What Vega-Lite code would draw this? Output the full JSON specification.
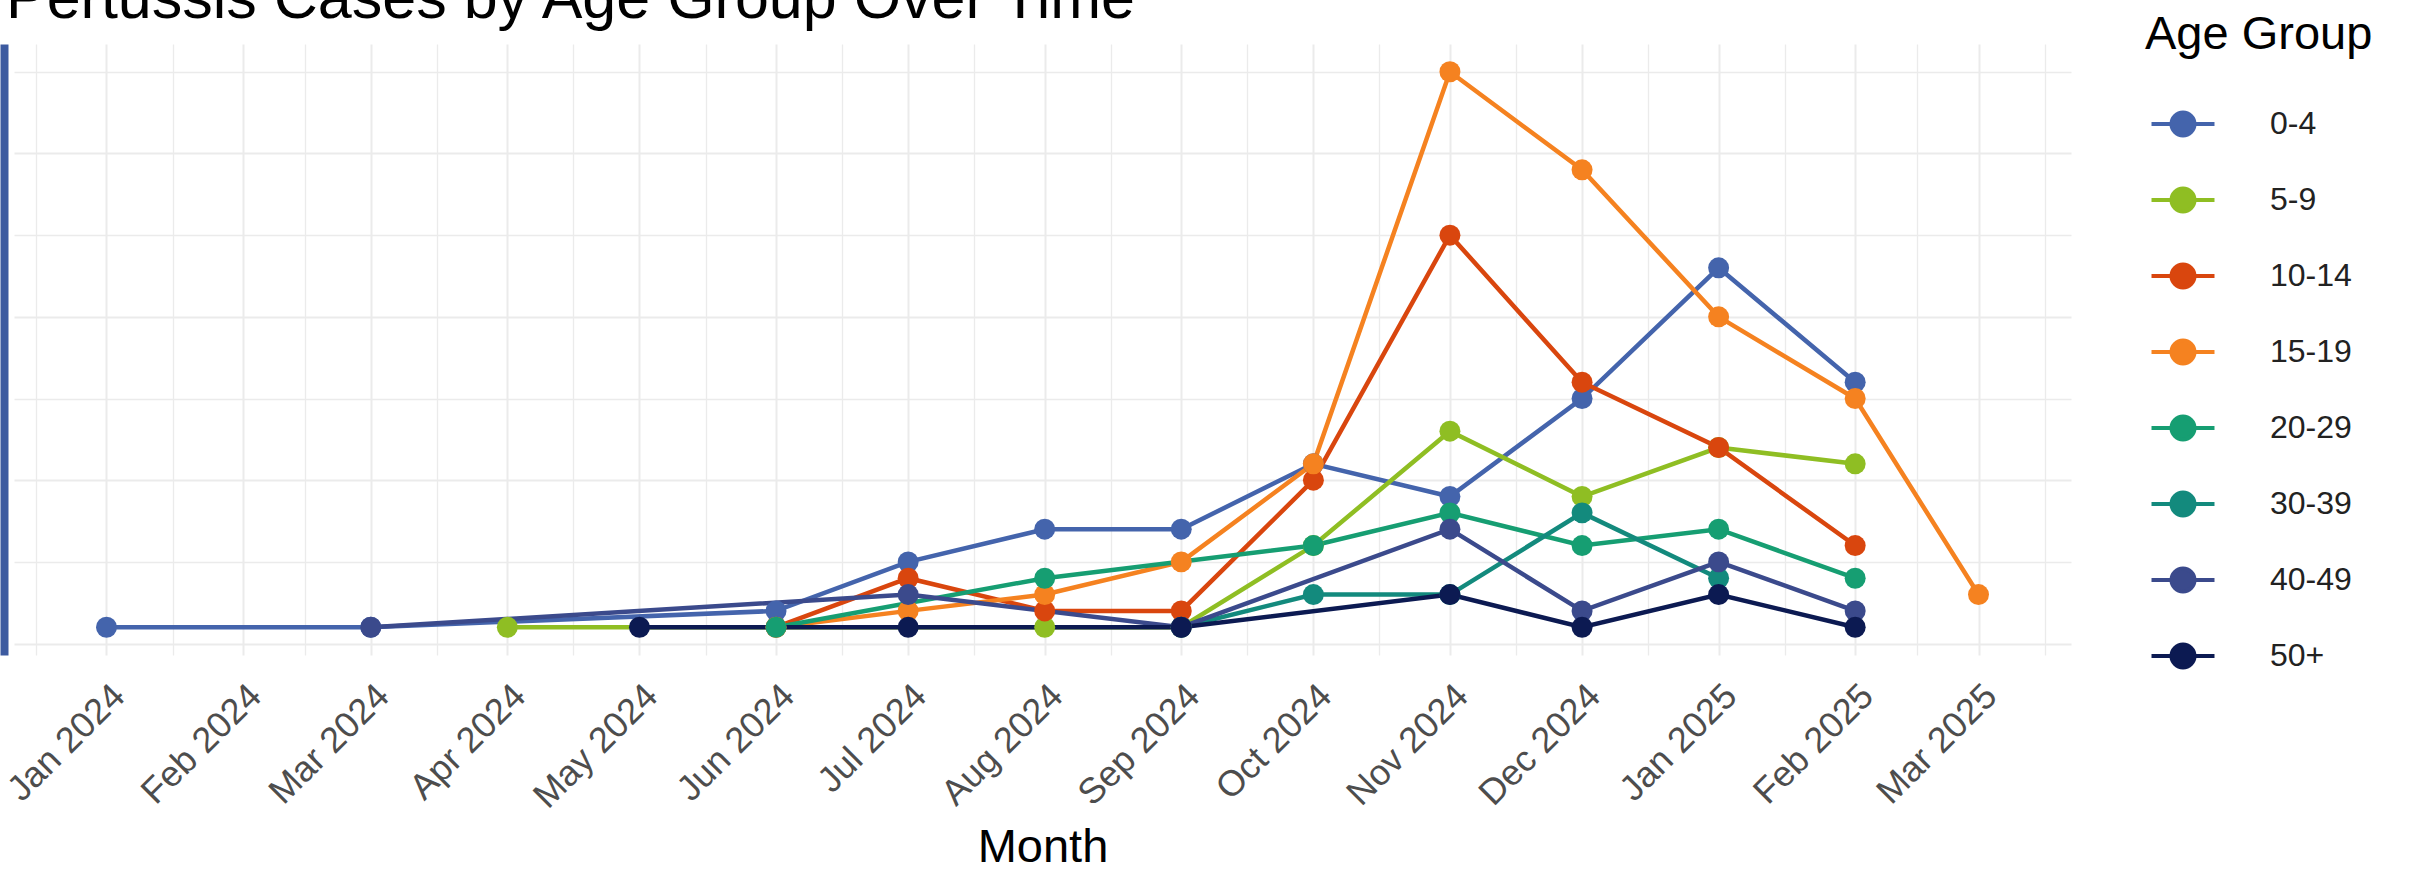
{
  "$schema": "https://vega.github.io/schema/vega-lite/v6.json",
  "width": 2057,
  "height": 611,
  "autosize": "none",
  "padding": {"left": 14, "top": 44, "right": 338, "bottom": 217},
  "background": "white",
  "config": {"view": {"stroke": null}, "font": "Liberation Sans"},
  "title": {"text": "Pertussis Cases by Age Group Over Time", "anchor": "start", "frame": "group", "fontSize": 61, "fontWeight": "normal", "color": "#000000", "baseline": "alphabetic", "offset": -67, "dx": -8, "font": "Liberation Sans", "limit": 2000},
  "data": {"values": [
    {"month": "2024-01-01", "group": "0-4", "cases": 1},
    {"month": "2024-03-01", "group": "0-4", "cases": 1},
    {"month": "2024-06-01", "group": "0-4", "cases": 2},
    {"month": "2024-07-01", "group": "0-4", "cases": 5},
    {"month": "2024-08-01", "group": "0-4", "cases": 7},
    {"month": "2024-09-01", "group": "0-4", "cases": 7},
    {"month": "2024-10-01", "group": "0-4", "cases": 11},
    {"month": "2024-11-01", "group": "0-4", "cases": 9},
    {"month": "2024-12-01", "group": "0-4", "cases": 15},
    {"month": "2025-01-01", "group": "0-4", "cases": 23},
    {"month": "2025-02-01", "group": "0-4", "cases": 16},
    {"month": "2024-04-01", "group": "5-9", "cases": 1},
    {"month": "2024-08-01", "group": "5-9", "cases": 1},
    {"month": "2024-09-01", "group": "5-9", "cases": 1},
    {"month": "2024-10-01", "group": "5-9", "cases": 6},
    {"month": "2024-11-01", "group": "5-9", "cases": 13},
    {"month": "2024-12-01", "group": "5-9", "cases": 9},
    {"month": "2025-01-01", "group": "5-9", "cases": 12},
    {"month": "2025-02-01", "group": "5-9", "cases": 11},
    {"month": "2024-06-01", "group": "10-14", "cases": 1},
    {"month": "2024-07-01", "group": "10-14", "cases": 4},
    {"month": "2024-08-01", "group": "10-14", "cases": 2},
    {"month": "2024-09-01", "group": "10-14", "cases": 2},
    {"month": "2024-10-01", "group": "10-14", "cases": 10},
    {"month": "2024-11-01", "group": "10-14", "cases": 25},
    {"month": "2024-12-01", "group": "10-14", "cases": 16},
    {"month": "2025-01-01", "group": "10-14", "cases": 12},
    {"month": "2025-02-01", "group": "10-14", "cases": 6},
    {"month": "2024-06-01", "group": "15-19", "cases": 1},
    {"month": "2024-07-01", "group": "15-19", "cases": 2},
    {"month": "2024-08-01", "group": "15-19", "cases": 3},
    {"month": "2024-09-01", "group": "15-19", "cases": 5},
    {"month": "2024-10-01", "group": "15-19", "cases": 11},
    {"month": "2024-11-01", "group": "15-19", "cases": 35},
    {"month": "2024-12-01", "group": "15-19", "cases": 29},
    {"month": "2025-01-01", "group": "15-19", "cases": 20},
    {"month": "2025-02-01", "group": "15-19", "cases": 15},
    {"month": "2025-03-01", "group": "15-19", "cases": 3},
    {"month": "2024-06-01", "group": "20-29", "cases": 1},
    {"month": "2024-08-01", "group": "20-29", "cases": 4},
    {"month": "2024-10-01", "group": "20-29", "cases": 6},
    {"month": "2024-11-01", "group": "20-29", "cases": 8},
    {"month": "2024-12-01", "group": "20-29", "cases": 6},
    {"month": "2025-01-01", "group": "20-29", "cases": 7},
    {"month": "2025-02-01", "group": "20-29", "cases": 4},
    {"month": "2024-09-01", "group": "30-39", "cases": 1},
    {"month": "2024-10-01", "group": "30-39", "cases": 3},
    {"month": "2024-11-01", "group": "30-39", "cases": 3},
    {"month": "2024-12-01", "group": "30-39", "cases": 8},
    {"month": "2025-01-01", "group": "30-39", "cases": 4},
    {"month": "2024-03-01", "group": "40-49", "cases": 1},
    {"month": "2024-07-01", "group": "40-49", "cases": 3},
    {"month": "2024-09-01", "group": "40-49", "cases": 1},
    {"month": "2024-11-01", "group": "40-49", "cases": 7},
    {"month": "2024-12-01", "group": "40-49", "cases": 2},
    {"month": "2025-01-01", "group": "40-49", "cases": 5},
    {"month": "2025-02-01", "group": "40-49", "cases": 2},
    {"month": "2024-05-01", "group": "50+", "cases": 1},
    {"month": "2024-07-01", "group": "50+", "cases": 1},
    {"month": "2024-09-01", "group": "50+", "cases": 1},
    {"month": "2024-11-01", "group": "50+", "cases": 3},
    {"month": "2024-12-01", "group": "50+", "cases": 1},
    {"month": "2025-01-01", "group": "50+", "cases": 3},
    {"month": "2025-02-01", "group": "50+", "cases": 1}
  ]},
  "encoding": {
    "x": {
      "field": "month", "type": "temporal",
      "scale": {"type": "utc", "domain": [{"year": 2023, "month": 12, "date": 11, "utc": true}, {"year": 2025, "month": 3, "date": 22, "utc": true}]},
      "axis": {
        "title": "Month", "titleFontSize": 47, "titleFont": "Liberation Sans", "titleFontWeight": "normal", "titleColor": "#000000", "titlePadding": 10,
        "values": [
          {"year": 2023, "month": 12, "date": 16, "utc": true},
          {"year": 2024, "month": 1, "date": 1, "utc": true},
          {"year": 2024, "month": 1, "date": 16, "utc": true},
          {"year": 2024, "month": 2, "date": 1, "utc": true},
          {"year": 2024, "month": 2, "date": 15, "utc": true},
          {"year": 2024, "month": 3, "date": 1, "utc": true},
          {"year": 2024, "month": 3, "date": 16, "utc": true},
          {"year": 2024, "month": 4, "date": 1, "utc": true},
          {"year": 2024, "month": 4, "date": 16, "utc": true},
          {"year": 2024, "month": 5, "date": 1, "utc": true},
          {"year": 2024, "month": 5, "date": 16, "utc": true},
          {"year": 2024, "month": 6, "date": 1, "utc": true},
          {"year": 2024, "month": 6, "date": 16, "utc": true},
          {"year": 2024, "month": 7, "date": 1, "utc": true},
          {"year": 2024, "month": 7, "date": 16, "utc": true},
          {"year": 2024, "month": 8, "date": 1, "utc": true},
          {"year": 2024, "month": 8, "date": 16, "utc": true},
          {"year": 2024, "month": 9, "date": 1, "utc": true},
          {"year": 2024, "month": 9, "date": 16, "utc": true},
          {"year": 2024, "month": 10, "date": 1, "utc": true},
          {"year": 2024, "month": 10, "date": 16, "utc": true},
          {"year": 2024, "month": 11, "date": 1, "utc": true},
          {"year": 2024, "month": 11, "date": 16, "utc": true},
          {"year": 2024, "month": 12, "date": 1, "utc": true},
          {"year": 2024, "month": 12, "date": 16, "utc": true},
          {"year": 2025, "month": 1, "date": 1, "utc": true},
          {"year": 2025, "month": 1, "date": 16, "utc": true},
          {"year": 2025, "month": 2, "date": 1, "utc": true},
          {"year": 2025, "month": 2, "date": 15, "utc": true},
          {"year": 2025, "month": 3, "date": 1, "utc": true},
          {"year": 2025, "month": 3, "date": 16, "utc": true}
        ],
        "labelExpr": "utcdate(datum.value) == 1 ? utcFormat(datum.value, '%b %Y') : ''",
        "labelAngle": -45, "labelAlign": "right", "labelBaseline": "top", "labelFontSize": 36, "labelFont": "Liberation Sans", "labelColor": "#4d4d4d", "labelPadding": 23, "labelOverlap": false, "labelFlush": false,
        "ticks": false, "domain": false, "grid": true, "gridColor": "#ebebeb",
        "gridWidth": {"condition": {"test": "utcdate(datum.value) == 1", "value": 2}, "value": 1.3}
      }
    },
    "y": {
      "field": "cases", "type": "quantitative",
      "scale": {"domain": [-0.7, 36.7], "nice": false, "zero": false},
      "axis": {
        "title": null, "labels": false, "ticks": false,
        "values": [0, 5, 10, 15, 20, 25, 30, 35],
        "grid": true, "gridColor": "#ebebeb",
        "gridWidth": {"condition": {"test": "datum.value % 10 == 0", "value": 2}, "value": 1.3},
        "domain": true, "domainColor": "#3c5aa0", "domainWidth": 8, "offset": 10
      }
    },
    "color": {
      "field": "group", "type": "nominal",
      "scale": {
        "domain": ["0-4", "5-9", "10-14", "15-19", "20-29", "30-39", "40-49", "50+"],
        "range": ["#4464ac", "#8fbe23", "#d9460e", "#f58220", "#169e72", "#138a7d", "#3b4a8c", "#0c1a52"]
      },
      "legend": {
        "orient": "none", "legendX": 2131, "legendY": -32,
        "title": "Age Group", "titleFontSize": 47, "titleFont": "Liberation Sans", "titleFontWeight": "normal", "titleColor": "#000000", "titlePadding": 47, "titleLimit": 600,
        "labelFontSize": 32, "labelFont": "Liberation Sans", "labelColor": "#222222", "labelLimit": 400,
        "symbolType": "M -2 0 L 2 0 M 0.73 0 A 0.73 0.73 0 1 1 -0.73 0 A 0.73 0.73 0 1 1 0.73 0 Z",
        "symbolSize": 992, "symbolStrokeWidth": 4, "symbolOffset": 20, "labelOffset": 69, "rowPadding": 36,
        "encode": {"symbols": {"update": {"fill": {"scale": "color", "field": "value"}, "stroke": {"scale": "color", "field": "value"}, "opacity": {"value": 1}}}}
      }
    }
  },
  "layer": [
    {"mark": {"type": "line", "strokeWidth": 4.5}},
    {"mark": {"type": "point", "filled": true, "size": 440, "opacity": 1}}
  ]
}
